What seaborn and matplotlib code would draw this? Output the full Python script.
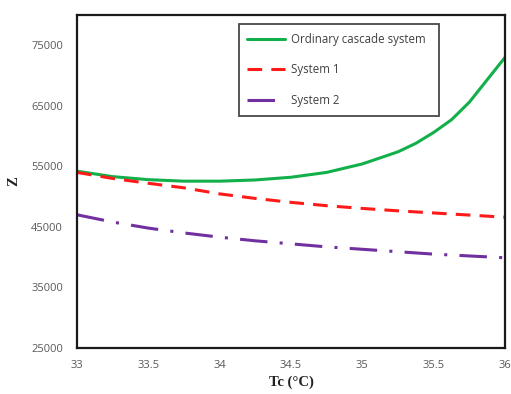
import matplotlib
matplotlib.use("Agg")
import matplotlib.pyplot as plt
import seaborn as sns
import pandas as pd

# Condensing temperature (°C) and objective Z for the three configurations
tc_ordinary = [33.0, 33.25, 33.5, 33.75, 34.0, 34.25, 34.5, 34.75, 35.0, 35.25, 35.375,
               35.5, 35.625, 35.75, 35.875, 36.0]
z_ordinary = [54200, 53300, 52800, 52550, 52550, 52750, 53200, 54000, 55400, 57400, 58800,
              60600, 62700, 65600, 69300, 73000]

tc = [33.0, 33.25, 33.5, 33.75, 34.0, 34.25, 34.5, 34.75, 35.0, 35.25, 35.5, 35.75, 36.0]
z_system1 = [54000, 53000, 52200, 51450, 50450, 49700, 49050, 48500, 48050, 47650, 47300, 46950, 46600]
z_system2 = [47000, 45800, 44800, 44000, 43300, 42700, 42200, 41700, 41300, 40900, 40500, 40200, 39900]

series_names = ["Ordinary cascade system", "System 1", "System 2"]
x_ticks = [33, 33.5, 34, 34.5, 35, 35.5, 36]
x_tick_labels = ["33", "33.5", "34", "34.5", "35", "35.5", "36"]
y_ticks = [25000, 35000, 45000, 55000, 65000, 75000]

df = pd.DataFrame({
    "Tc": tc_ordinary + tc + tc,
    "Z": z_ordinary + z_system1 + z_system2,
    "series": [series_names[0]] * len(tc_ordinary) + [series_names[1]] * len(tc)
              + [series_names[2]] * len(tc),
})

sns.set_style("white")
plt.rcParams["font.family"] = ["Open Sans", "DejaVu Sans"]

fig = plt.figure(figsize=(5.11, 3.94), dpi=100)
ax = fig.add_axes([0.1507, 0.1168, 0.8376, 0.8452])

palette = {series_names[0]: "#12b04a", series_names[1]: "#ff1a1a", series_names[2]: "#7030a0"}
dashes = {
    series_names[0]: None,
    series_names[1]: (4.8, 3.0),
    series_names[2]: (9, 4, 1, 4),
}

for name in series_names:
    sub = df[df["series"] == name]
    sns.lineplot(x="Tc", y="Z", data=sub, ax=ax, color=palette[name], lw=2.2, label=name)
    ln = ax.get_lines()[-1]
    ln.set_solid_capstyle("round")
    ln.set_solid_joinstyle("round")
    if dashes[name] is not None:
        ln.set_dashes(dashes[name])

ax.set_xlim(33, 36)
ax.set_ylim(25000, 80000)
ax.set_xticks(x_ticks)
ax.set_xticklabels(x_tick_labels)
ax.set_yticks(y_ticks)
ax.set_yticklabels([str(v) for v in y_ticks])

for side in ["left", "right", "top", "bottom"]:
    ax.spines[side].set_visible(True)
    ax.spines[side].set_color("#1a1a1a")
    ax.spines[side].set_linewidth(1.6)

ax.tick_params(axis="both", direction="in", length=2.5, width=0.8, colors="#7f7f7f",
               labelcolor="#595959", labelsize=8)
ax.tick_params(axis="x", pad=9)
ax.tick_params(axis="y", pad=10)

ax.set_xlabel("Tc (°C)", family=["Liberation Serif"], fontweight="bold", fontsize=10.5,
              color="#222222", labelpad=3)
ax.set_ylabel("Z", family=["Liberation Serif"], fontweight="bold", fontsize=10.5,
              color="#222222", labelpad=8)

leg = ax.legend(loc="upper left", bbox_to_anchor=(0.378, 0.697, 0.468, 0.276), mode="expand",
                frameon=True, fancybox=False, edgecolor="#1a1a1a", fontsize=8.3,
                labelspacing=1.55, handlelength=3.3, handletextpad=0.5, borderpad=0.75,
                borderaxespad=0)
leg.get_frame().set_linewidth(1.3)
for t in leg.get_texts():
    t.set_color("#404040")

fig.savefig("out.png", dpi=100)
